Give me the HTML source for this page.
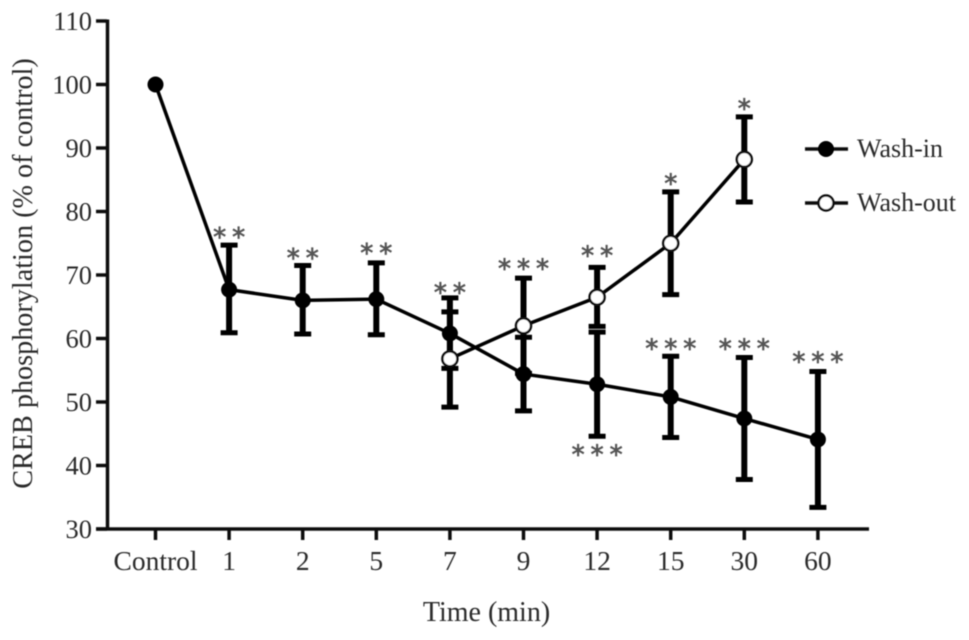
<!DOCTYPE html>
<html>
<head>
<meta charset="utf-8">
<title>CREB phosphorylation</title>
<style>
html,body{margin:0;padding:0;background:#fff;width:969px;height:640px;overflow:hidden}
svg{display:block}
text{font-family:"Liberation Serif",serif;fill:#2a2a2a}
</style>
</head>
<body>
<svg id="chart" xmlns="http://www.w3.org/2000/svg" width="969" height="640" viewBox="0 0 969 640">
  <defs><filter id="soft" x="-5%" y="-5%" width="110%" height="110%"><feGaussianBlur stdDeviation="0.55"/></filter></defs>
  <g id="root" filter="url(#soft)">
    <text transform="translate(32,273.5) rotate(-90)" text-anchor="middle" font-size="28.2">CREB phosphorylation (% of control)</text>
    <text x="486.5" y="621" text-anchor="middle" font-size="28">Time (min)</text>
    <g id="layer-axes"></g>
    <g id="layer-series"></g>
    <g id="layer-stars"></g>
    <g>
      <g>
        <line x1="805" x2="848" y1="149" y2="149" stroke="#111" stroke-width="3.5"/>
        <circle cx="826" cy="149" r="8" fill="#000"/>
        <text x="857" y="157" font-size="26">Wash-in</text>
      </g>
      <g>
        <line x1="805" x2="848" y1="203" y2="203" stroke="#111" stroke-width="3.5"/>
        <circle cx="826" cy="203" r="7.5" fill="#fff" stroke="#111" stroke-width="2.5"/>
        <text x="857" y="211" font-size="26">Wash-out</text>
      </g>
    </g>
  </g>
</svg>
<script>
const categories = ['Control','1','2','5','7','9','12','15','30','60'];
const yTicks = [30,40,50,60,70,80,90,100,110];

const washInValues = [100,67.7,66,66.2,60.8,54.4,52.8,50.8,47.4,44.1];
const washInUpper = [null,74.7,71.5,71.9,66.4,60.2,61,57.2,57,54.8];
const washInLower = [null,60.9,60.7,60.6,55.3,48.6,44.6,44.4,37.8,33.4];

const washOutCategories = ['7','9','12','15','30'];
const washOutValues = [56.8,62,66.5,75,88.2];
const washOutUpper = [64.2,69.5,71.2,83.1,94.9];
const washOutLower = [49.2,54.5,61.9,66.9,81.5];

const starCategories = ['1','2','5','7','9','12','12','15','15','30','30','60'];
const starLabels = [2,2,2,2,3,2,3,1,3,1,3,3];
const starLevels = [76.5,73.2,74,67.8,71.6,73.6,42.3,85,59,96.8,59,56.9];

function xPos(cat){ return 155.5 + categories.indexOf(cat) * 73.6; }
function yPos(v){ return 529 - (v - 30) * 6.35; }

const NS = 'http://www.w3.org/2000/svg';
function make(tag, parent, attrs){
  const el = document.createElementNS(NS, tag);
  for (const k in attrs) el.setAttribute(k, attrs[k]);
  parent.appendChild(el);
  return el;
}

const axes = document.getElementById('layer-axes');
const series = document.getElementById('layer-series');
const stars = document.getElementById('layer-stars');

const yAxisLine = make('line', axes, {x1:107.5,x2:107.5,y1:19.5,y2:530.5,stroke:'#111','stroke-width':3.5});


const xAxisLine = make('line', axes, {x1:96,x2:869,y1:529,y2:529,stroke:'#111','stroke-width':3.5});



yTicks.forEach(function(t){
  const mark = make('line', axes, {x1:96,x2:107,y1:yPos(t),y2:yPos(t),stroke:'#111','stroke-width':3.5});
  
  
  const label = make('text', axes, {x:92,y:yPos(t)+9,'text-anchor':'end','font-size':26.5});
  label.textContent = t;
  
  
});

categories.forEach(function(c){
  const mark = make('line', axes, {x1:xPos(c),x2:xPos(c),y1:529,y2:540,stroke:'#111','stroke-width':3.5});
  
  
  const label = make('text', axes, {x:xPos(c),y:570,'text-anchor':'middle','font-size':27.5});
  label.textContent = c;
  
  
});

function drawBar(cat, hi, lo, name){
  const g = make('g', series, {stroke:'#000'});
  
  
  const x = xPos(cat);
  make('line', g, {x1:x,x2:x,y1:yPos(hi),y2:yPos(lo),'stroke-width':6});
  make('line', g, {x1:x-8.5,x2:x+8.5,y1:yPos(hi),y2:yPos(hi),'stroke-width':5});
  make('line', g, {x1:x-8.5,x2:x+8.5,y1:yPos(lo),y2:yPos(lo),'stroke-width':5});
}

washInValues.forEach(function(v,i){
  if (washInUpper[i] !== null) drawBar(categories[i], washInUpper[i], washInLower[i], 'error-bar-wash-in-' + categories[i]);
});
washOutValues.forEach(function(v,i){
  drawBar(washOutCategories[i], washOutUpper[i], washOutLower[i], 'error-bar-wash-out-' + washOutCategories[i]);
});

const washInLine = make('polyline', series, {
  points: washInValues.map(function(v,i){ return xPos(categories[i]) + ',' + yPos(v); }).join(' '),
  fill:'none', stroke:'#000', 'stroke-width':3.5, 'stroke-linejoin':'round'
});


const washOutLine = make('polyline', series, {
  points: washOutValues.map(function(v,i){ return xPos(washOutCategories[i]) + ',' + yPos(v); }).join(' '),
  fill:'none', stroke:'#000', 'stroke-width':3.5, 'stroke-linejoin':'round'
});



washInValues.forEach(function(v,i){
  const pt = make('circle', series, {cx:xPos(categories[i]),cy:yPos(v),r:8,fill:'#000'});
  
  
});
washOutValues.forEach(function(v,i){
  const pt = make('circle', series, {cx:xPos(washOutCategories[i]),cy:yPos(v),r:7.5,fill:'#fff',stroke:'#111','stroke-width':2.5});
  
  
});

starCategories.forEach(function(c,i){
  const n = starLabels[i];
  const g = make('g', stars, {});
  
  
  for (let k = 0; k < n; k++){
    const s = make('text', g, {
      x: xPos(c) + (k - (n - 1) / 2) * 19,
      y: yPos(starLevels[i]) + 12.5,
      'text-anchor':'middle',
      'font-size':26,
      style:'font-family:"DejaVu Sans",sans-serif;fill:#555;stroke:#555;stroke-width:0.7'
    });
    s.textContent = '*';
  }
});
</script>
</body>
</html>
